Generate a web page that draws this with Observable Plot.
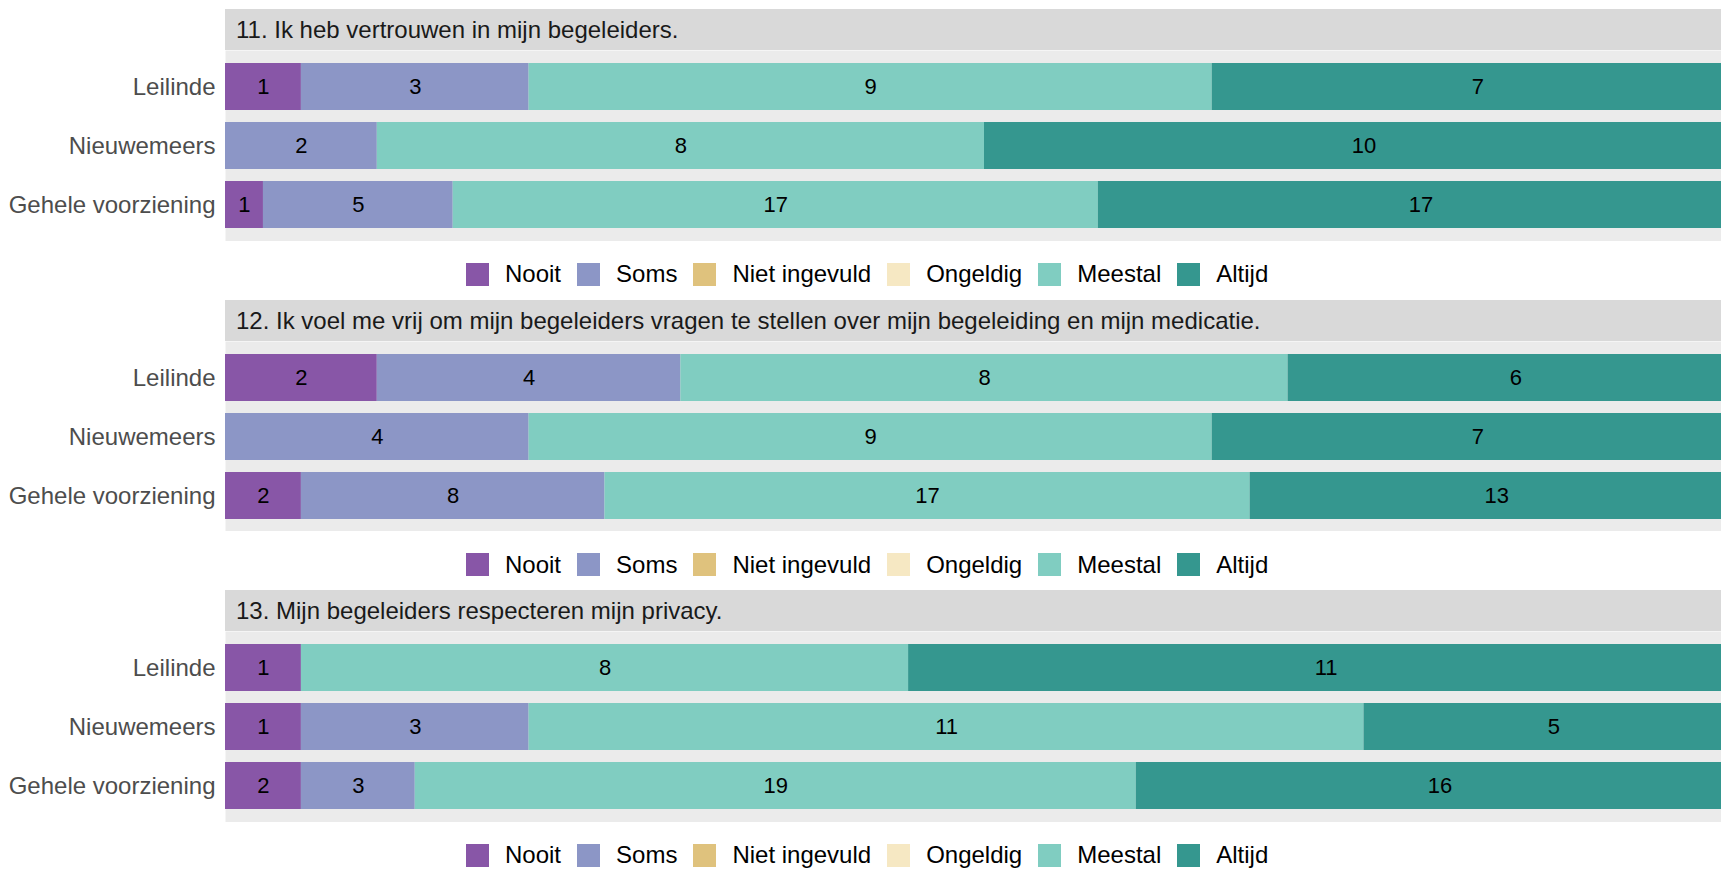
<!DOCTYPE html>
<html>
<head>
<meta charset="utf-8">
<script src="https://cdn.jsdelivr.net/npm/d3@7"></script>
<script src="https://cdn.jsdelivr.net/npm/@observablehq/plot@0.6"></script>
<style>
  html, body { margin: 0; padding: 0; background: #fff; overflow: hidden; }
  body { font-family: "Liberation Sans", Arial, Helvetica, sans-serif; padding-top: 9px; width: 1743px; }
  .block { height: 290.5px; }
  .strip { margin-left: 225px; width: 1518px; height: 41px; background: #d9d9d9; color: #1a1a1a;
           font-size: 24px; line-height: 41px; padding-left: 11px; box-sizing: border-box; white-space: nowrap; }
  .legend { display: flex; align-items: center; height: 23px; margin: 22px 0 0 466px; font-size: 24px; color: #000; }
  .legend .item { display: flex; align-items: center; margin-right: 16px; }
  .legend .sw { width: 23px; height: 23px; margin-right: 16px; }
  svg { display: block; }
</style>
</head>
<body>
<div id="chart"></div>
<script>
// Categories, colours, locations and questions
const categories = ["Nooit", "Soms", "Niet ingevuld", "Ongeldig", "Meestal", "Altijd"];
const colors = ["#8856a7", "#8c96c6", "#dfc27d", "#f6e8c3", "#80cdc1", "#35978f"];
const locations = ["Leilinde", "Nieuwemeers", "Gehele voorziening"];
const questions = [
  "11. Ik heb vertrouwen in mijn begeleiders.",
  "12. Ik voel me vrij om mijn begeleiders vragen te stellen over mijn begeleiding en mijn medicatie.",
  "13. Mijn begeleiders respecteren mijn privacy."
];

// Counts per question: rows = locations, columns = categories
const q11 = [
  [1, 3, 0, 0, 9, 7],
  [0, 2, 0, 0, 8, 10],
  [1, 5, 0, 0, 17, 17]
];
const q12 = [
  [2, 4, 0, 0, 8, 6],
  [0, 4, 0, 0, 9, 7],
  [2, 8, 0, 0, 17, 13]
];
const q13 = [
  [1, 0, 0, 0, 8, 11],
  [1, 3, 0, 0, 11, 5],
  [2, 3, 0, 0, 19, 16]
];
const counts = [q11, q12, q13];

const root = document.getElementById("chart");

counts.forEach((table, qi) => {
  const rows = [];
  table.forEach((vals, li) => {
    const total = d3.sum(vals);
    vals.forEach((n, ci) => {
      if (n > 0) rows.push({loc: locations[li], cat: categories[ci], n, pct: n / total * 100});
    });
  });

  const block = document.createElement("div");
  block.className = "block";
  const strip = document.createElement("div");
  strip.className = "strip";
  strip.textContent = questions[qi];
  block.appendChild(strip);

  const plot = Plot.plot({
    width: 1743,
    height: 190.5,
    marginLeft: 225,
    marginRight: 0,
    marginTop: 0,
    marginBottom: 0,
    style: {fontFamily: '"Liberation Sans", Arial, sans-serif', fontSize: "24px", color: "#4d4d4d", background: "transparent"},
    x: {domain: [0, 100], axis: null},
    y: {domain: locations, padding: 0.2, label: null},
    color: {domain: categories, range: colors},
    marks: [
      Plot.frame({fill: "#ebebeb", stroke: null}),
      Plot.barX(rows, Plot.stackX({x: "pct", y: "loc", fill: "cat", order: categories})),
      Plot.text(rows, Plot.stackX({x: "pct", y: "loc", z: "cat", text: "n", order: categories, fill: "black", fontSize: 22})),
      Plot.axisY({tickSize: 0, tickPadding: 10, fontSize: 24, fill: "#4d4d4d", label: null})
    ]
  });
  block.appendChild(plot);

  const legend = document.createElement("div");
  legend.className = "legend";
  categories.forEach((c, i) => {
    const item = document.createElement("div");
    item.className = "item";
    const sw = document.createElement("div");
    sw.className = "sw";
    sw.style.background = colors[i];
    const t = document.createElement("span");
    t.textContent = c;
    item.appendChild(sw);
    item.appendChild(t);
    legend.appendChild(item);
  });
  block.appendChild(legend);
  root.appendChild(block);
});
</script>
</body>
</html>
